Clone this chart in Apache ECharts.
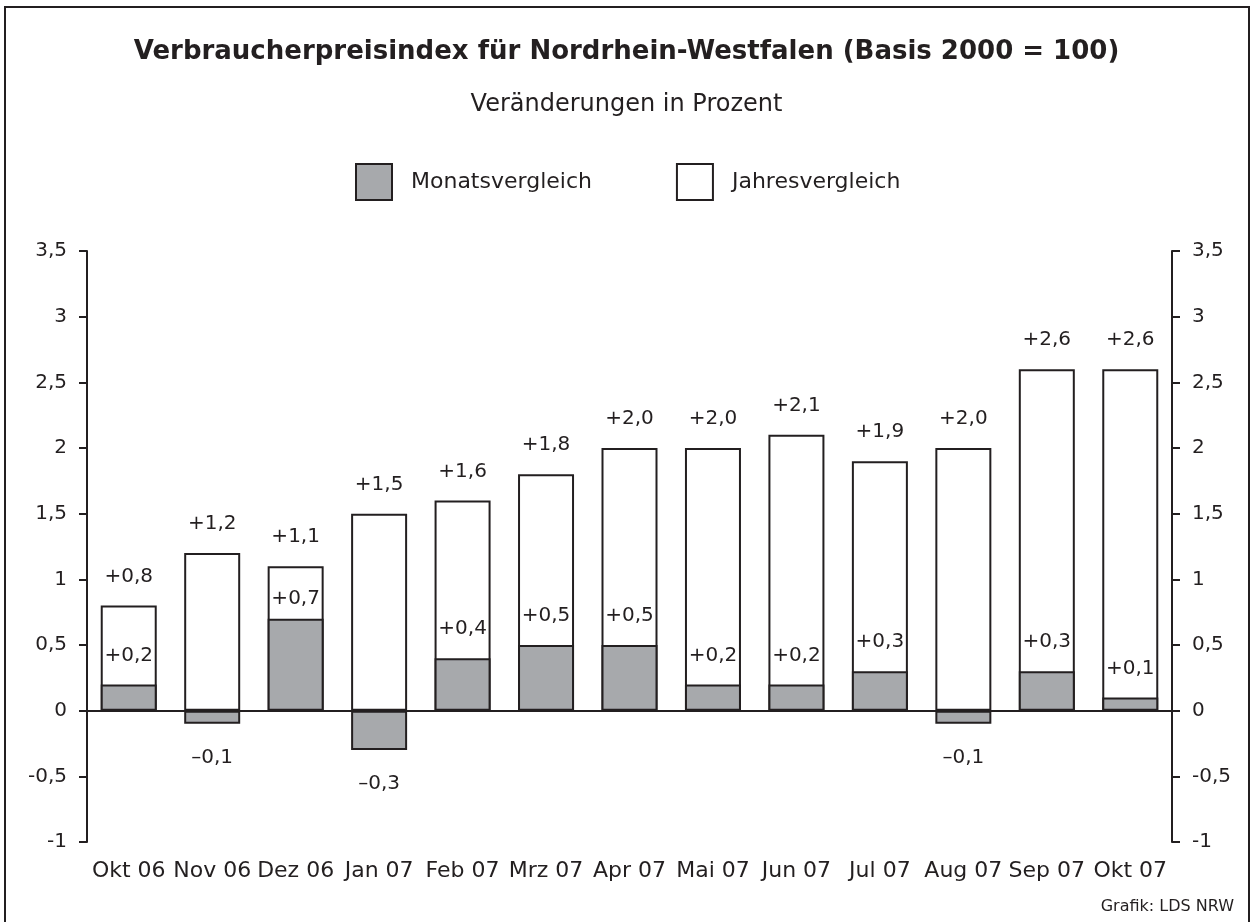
<!DOCTYPE html>
<html>
<head>
<meta charset="utf-8">
<script src="https://cdn.jsdelivr.net/npm/echarts@6/dist/echarts.min.js"></script>
<style>
  html, body { margin: 0; padding: 0; background: #fff; }
  #chart { width: 1253px; height: 922px; }
</style>
</head>
<body>
<div id="chart"></div>
<script>
// Werte
const months = ["Okt 06", "Nov 06", "Dez 06", "Jan 07", "Feb 07", "Mrz 07", "Apr 07",
  "Mai 07", "Jun 07", "Jul 07", "Aug 07", "Sep 07", "Okt 07"];
const monatsvergleich = [0.2, -0.1, 0.7, -0.3, 0.4, 0.5, 0.5, 0.2, 0.2, 0.3, -0.1, 0.3, 0.1];
const jahresvergleich = [0.8, 1.2, 1.1, 1.5, 1.6, 1.8, 2.0, 2.0, 2.1, 1.9, 2.0, 2.6, 2.6];
const yTicks = { min: -1, max: 3.5, step: 0.5 };

const TEXT = "#231f20";
const FONT = "'DejaVu Sans', 'Open Sans', sans-serif";

const fmtSigned = (v) => (v < 0 ? "\u2013" : "+") + Math.abs(v).toFixed(1).replace(".", ",");
const fmtAxis = (v) => String(v).replace(".", ",");

const chart = echarts.init(document.getElementById("chart"));

const yAxisBase = (pos) => ({
  type: "value",
  position: pos,
  min: yTicks.min,
  max: yTicks.max,
  interval: yTicks.step,
  splitLine: { show: false },
  axisLine: { show: true, lineStyle: { color: TEXT, width: 2 } },
  axisTick: { show: true, length: 8, lineStyle: { color: TEXT, width: 2 } },
  axisLabel: { color: TEXT, fontSize: 20, fontFamily: FONT, margin: 20, formatter: fmtAxis },
});

const labelBase = { show: true, color: TEXT, fontSize: 20, fontFamily: FONT };

chart.setOption({
  animation: false,
  backgroundColor: "#fff",
  title: [
    {
      text: "Verbraucherpreisindex für Nordrhein-Westfalen (Basis 2000 = 100)",
      left: "center",
      top: 34,
      textStyle: { color: TEXT, fontSize: 26, fontWeight: "bold", fontFamily: FONT },
    },
    {
      text: "Veränderungen in Prozent",
      left: "center",
      top: 88,
      textStyle: { color: TEXT, fontSize: 24, fontWeight: "normal", fontFamily: FONT },
    },
    {
      text: "Grafik: LDS NRW",
      right: 14,
      top: 894,
      textStyle: { color: TEXT, fontSize: 16, fontWeight: "normal", fontFamily: FONT },
    },
  ],
  legend: {
    data: ["Monatsvergleich", "Jahresvergleich"],
    left: 355,
    top: 163,
    padding: 0,
    itemWidth: 36,
    itemHeight: 36,
    itemGap: 84,
    icon: "rect",
    textStyle: { color: TEXT, fontSize: 22, fontFamily: FONT, padding: [0, 0, 0, 14] },
    selectedMode: false,
  },
  graphic: [
    {
      type: "rect",
      shape: { x: 5, y: 7, width: 1244, height: 930 },
      style: { fill: "none", stroke: TEXT, lineWidth: 2 },
      silent: true,
    },
  ],
  grid: { left: 87, right: 81, top: 251, bottom: 80 },
  xAxis: {
    type: "category",
    data: months,
    axisLine: { show: false, onZero: false },
    axisTick: { show: false },
    axisLabel: { color: TEXT, fontSize: 22, fontFamily: FONT, margin: 18, interval: 0 },
  },
  yAxis: [yAxisBase("left"), yAxisBase("right")],
  series: [
    {
      name: "Jahresvergleich",
      type: "bar",
      barWidth: 56,
      barGap: "-100%",
      itemStyle: { color: "#fff", borderColor: TEXT, borderWidth: 2 },
      label: { ...labelBase, position: "top", distance: 19, formatter: (p) => fmtSigned(p.value) },
      data: jahresvergleich,
      markLine: {
        silent: true,
        symbol: "none",
        label: { show: false },
        lineStyle: { color: TEXT, width: 2, type: "solid" },
        data: [{ yAxis: 0 }],
      },
    },
    {
      name: "Monatsvergleich",
      type: "bar",
      barWidth: 56,
      barGap: "-100%",
      itemStyle: { color: "#a7a9ac", borderColor: TEXT, borderWidth: 2 },
      label: { ...labelBase, formatter: (p) => fmtSigned(p.value) },
      data: monatsvergleich.map((v, i) => ({
        value: v,
        label: v < 0
          ? { position: "bottom", distance: 24 }
          : { position: "top", distance: i === 2 ? 10 : 19 },
      })),
    },
  ],
});
</script>
</body>
</html>
